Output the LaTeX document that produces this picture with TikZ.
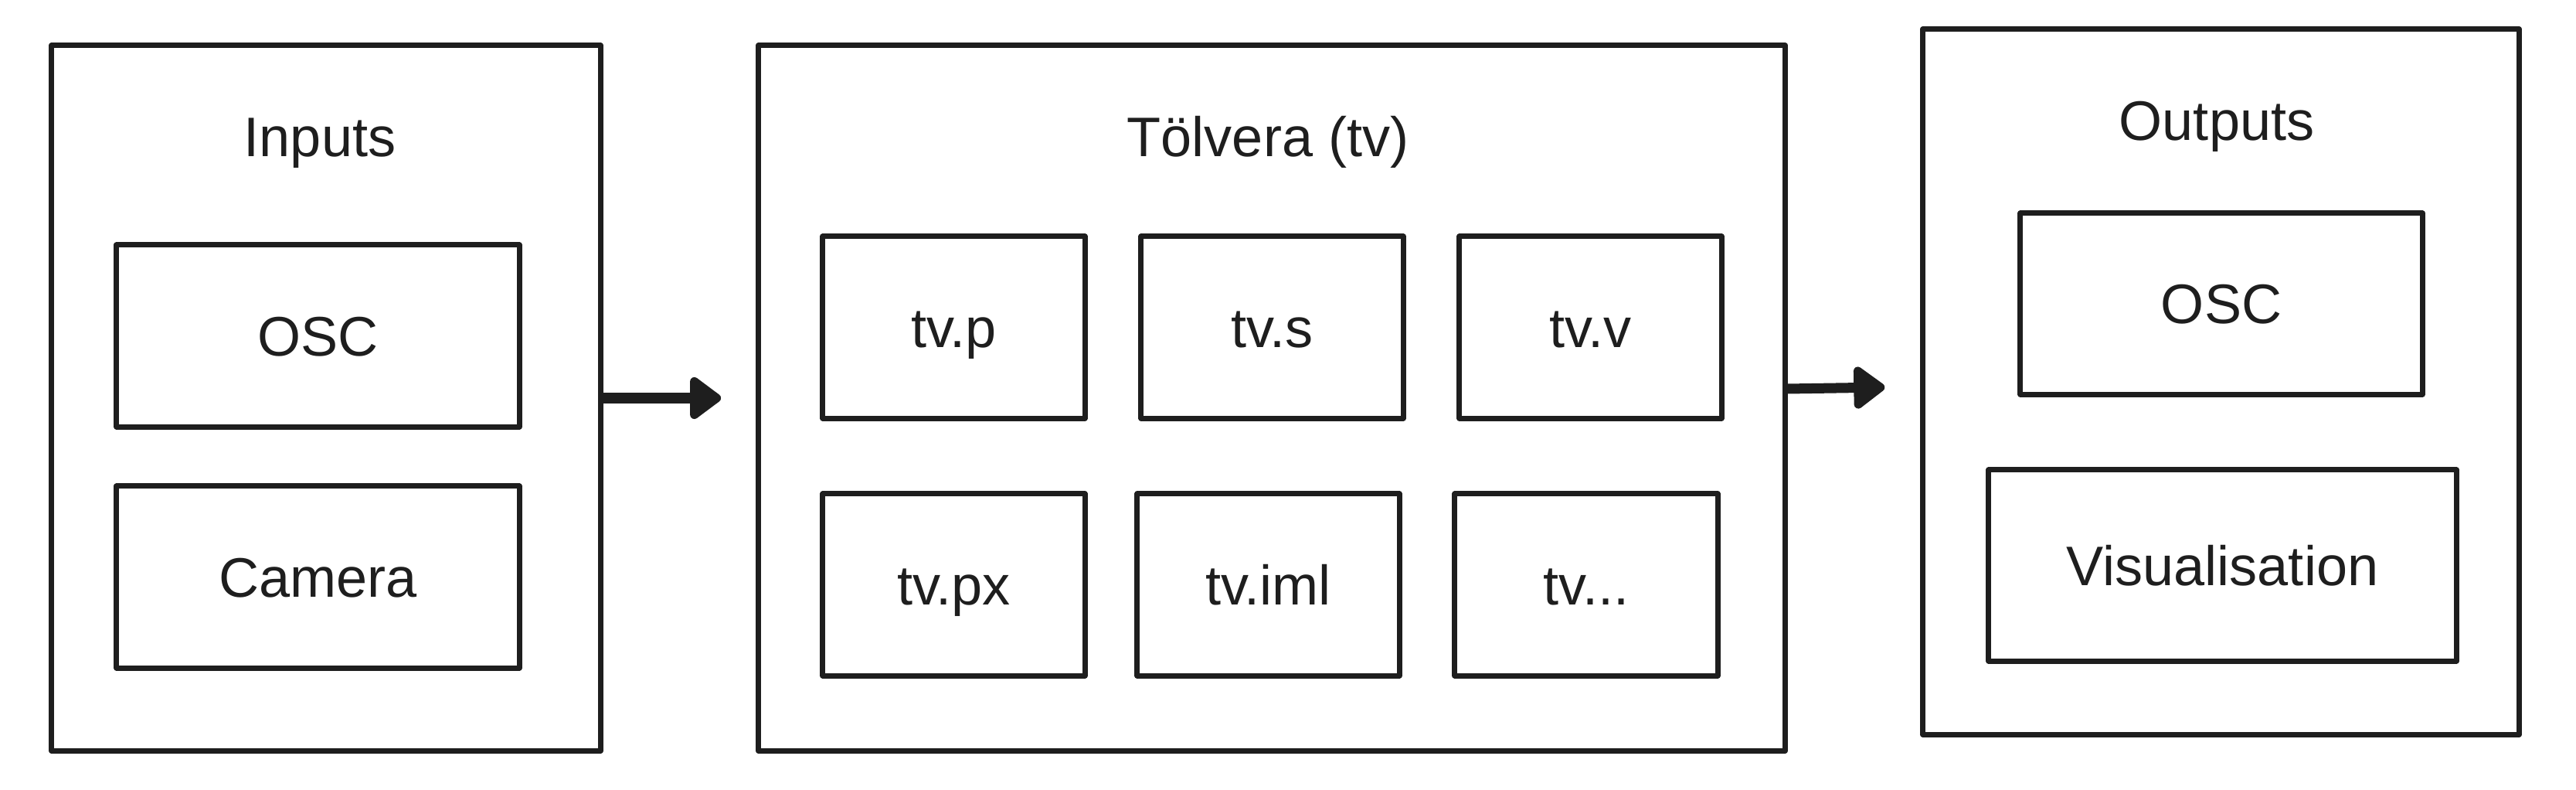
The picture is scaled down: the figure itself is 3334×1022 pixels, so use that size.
\documentclass[tikz,border=0pt]{standalone}
\usepackage{fontspec}
\setmainfont{Liberation Sans}
\usetikzlibrary{arrows.meta}
\definecolor{ink}{HTML}{1E1E1E}
\tikzset{
	block/.style={draw=ink, line width=0.7mm, line join=round, inner sep=0pt},
	boxtext/.style={text=ink, font=\fontsize{20.5}{24}\selectfont, text height=14.7pt, text depth=0pt, inner sep=0pt},
	cell/.style={block, boxtext, minimum height=2.35cm},
	flow/.style={draw=ink, line width=1.3mm, line cap=round, -{Triangle[round, length=4.4mm, width=6.2mm]}}
}

\begin{document}
\begin{tikzpicture}[x=0.01cm, y=-0.01cm]
		%%%%% START %%%%%
		\useasboundingbox (0, 0) rectangle (3334, 1022);
		
		% inputs
		\node[block, minimum width=7.10cm, minimum height=9.12cm] (in) at (422, 515) {};
		\node[boxtext] (intitle) at (414, 177) {Inputs};
		\node[cell, minimum width=5.21cm] (inosc) at (411.5, 434.5) {OSC};
		\node[cell, minimum width=5.21cm] (incam) at (411.5, 746.5) {Camera};
		
		% toelvera
		\node[block, minimum width=13.28cm, minimum height=9.12cm] (tv) at (1646, 515) {};
		\node[boxtext] (tvtitle) at (1641, 177) {Tölvera (tv)};
		\node[cell, minimum width=3.39cm] (tvp) at (1234.5, 423.5) {tv.p};
		\node[cell, minimum width=3.39cm] (tvs) at (1646.5, 423.5) {tv.s};
		\node[cell, minimum width=3.39cm] (tvv) at (2058.5, 423.5) {tv.v};
		\node[cell, minimum width=3.39cm] (tvpx) at (1234.5, 756.5) {tv.px};
		\node[cell, minimum width=3.39cm] (tviml) at (1641.5, 756.5) {tv.iml};
		\node[cell, minimum width=3.40cm] (tvetc) at (2053, 756.5) {tv...};
		
		% outputs
		\node[block, minimum width=7.71cm, minimum height=9.12cm] (out) at (2874.5, 494) {};
		\node[boxtext] (outtitle) at (2869, 156) {Outputs};
		\node[cell, minimum width=5.20cm, minimum height=2.34cm] (outosc) at (2875, 393) {OSC};
		\node[cell, minimum width=6.05cm, minimum height=2.47cm] (outvis) at (2876.5, 731.5) {Visualisation};
		
		\draw[flow, shorten >=4.5mm] (in.east) -- (tv.west);
		\draw[flow] ([yshift=0.12cm]tv.east) -- ([xshift=-0.46cm, yshift=-0.07cm]out.west);
		
		%%%%% END %%%%%
	\end{tikzpicture}
\end{document}
